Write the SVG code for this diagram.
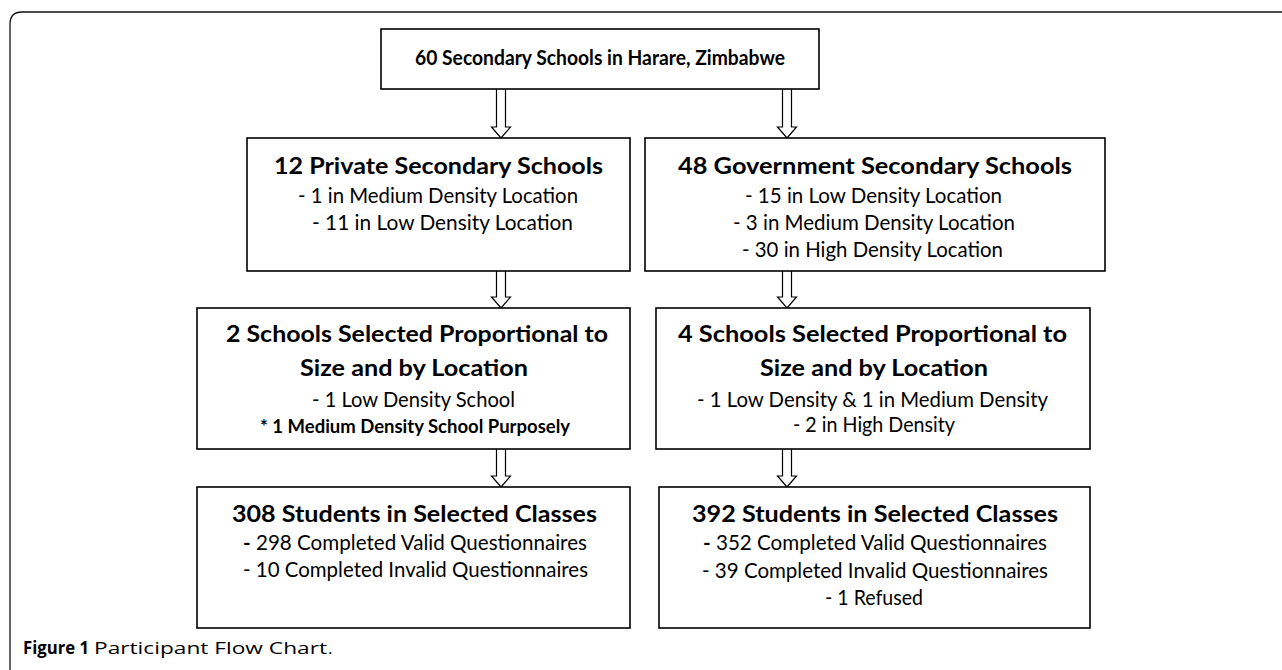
<svg xmlns="http://www.w3.org/2000/svg" width="1282" height="670" viewBox="0 0 1282 670">
<style>
.box{fill:#fff;stroke:#000;stroke-width:1.6}
.arr{fill:#fff;stroke:#000;stroke-width:1.2;stroke-linejoin:miter}
.frame{fill:none;stroke:#111;stroke-width:1.3}
text{font-family:Lato,"Liberation Sans",sans-serif;fill:#000}
.h{font-size:23px;font-weight:bold}
.t{font-size:21px;font-weight:bold}
.b{font-size:21px}
.s{font-size:19px;font-weight:bold}
.cap{font-size:17px;font-family:"Open Sans","Liberation Sans",sans-serif}
</style>
<rect width="1282" height="670" fill="#fff"/>
<path class="frame" d="M10,670 V24 Q10,12 22,12 H1282"/>
<g id="connectors">
<path class="arr" d="M496.5,89 V127 H491.5 L501,138 L510.5,127 H505.5 V89"/>
<path class="arr" d="M782.5,89 V127 H777.5 L787,138 L796.5,127 H791.5 V89"/>
<path class="arr" d="M496.5,271 V297 H491.5 L501,308 L510.5,297 H505.5 V271"/>
<path class="arr" d="M782.5,271 V297 H777.5 L787,308 L796.5,297 H791.5 V271"/>
<path class="arr" d="M496.5,449 V476 H491.5 L501,487 L510.5,476 H505.5 V449"/>
<path class="arr" d="M782.5,449 V476 H777.5 L787,487 L796.5,476 H791.5 V449"/>
</g>
<g id="n_top">
<rect class="box" x="381" y="29" width="438" height="60"/>
<text class="t" x="415" y="65" textLength="370" lengthAdjust="spacingAndGlyphs">60 Secondary Schools in Harare, Zimbabwe</text>
</g>
<g id="n_private">
<rect class="box" x="247" y="138" width="383" height="133"/>
<text class="h" x="274" y="174" textLength="329" lengthAdjust="spacingAndGlyphs">12 Private Secondary Schools</text>
<text class="b" x="298" y="203" textLength="280" lengthAdjust="spacingAndGlyphs">- 1 in Medium Density Location</text>
<text class="b" x="312" y="230" textLength="261" lengthAdjust="spacingAndGlyphs">- 11 in Low Density Location</text>
</g>
<g id="n_gov">
<rect class="box" x="645" y="138" width="460" height="133"/>
<text class="h" x="678" y="174" textLength="394" lengthAdjust="spacingAndGlyphs">48 Government Secondary Schools</text>
<text class="b" x="745" y="203" textLength="257" lengthAdjust="spacingAndGlyphs">- 15 in Low Density Location</text>
<text class="b" x="733" y="230" textLength="282" lengthAdjust="spacingAndGlyphs">- 3 in Medium Density Location</text>
<text class="b" x="742" y="257" textLength="261" lengthAdjust="spacingAndGlyphs">- 30 in High Density Location</text>
</g>
<g id="n_sel_private">
<rect class="box" x="197" y="308" width="433" height="141"/>
<text class="h" x="226" y="342" textLength="382" lengthAdjust="spacingAndGlyphs">2 Schools Selected Proportional to</text>
<text class="h" x="300" y="376" textLength="228" lengthAdjust="spacingAndGlyphs">Size and by Location</text>
<text class="b" x="312" y="407" textLength="203" lengthAdjust="spacingAndGlyphs">- 1 Low Density School</text>
<text class="s" x="260" y="433" textLength="310" lengthAdjust="spacingAndGlyphs">* 1 Medium Density School Purposely</text>
</g>
<g id="n_sel_gov">
<rect class="box" x="656" y="308" width="434" height="141"/>
<text class="h" x="678" y="342" textLength="389" lengthAdjust="spacingAndGlyphs">4 Schools Selected Proportional to</text>
<text class="h" x="760" y="376" textLength="228" lengthAdjust="spacingAndGlyphs">Size and by Location</text>
<text class="b" x="697" y="407" textLength="351" lengthAdjust="spacingAndGlyphs">- 1 Low Density &amp; 1 in Medium Density</text>
<text class="b" x="793" y="432" textLength="162" lengthAdjust="spacingAndGlyphs">- 2 in High Density</text>
</g>
<g id="n_students_private">
<rect class="box" x="197" y="487" width="433" height="141"/>
<text class="h" x="232" y="522" textLength="365" lengthAdjust="spacingAndGlyphs">308 Students in Selected Classes</text>
<text class="b" x="243" y="550" textLength="344" lengthAdjust="spacingAndGlyphs"><tspan font-weight="bold">-</tspan> 298 Completed Valid Questionnaires</text>
<text class="b" x="243" y="577" textLength="345" lengthAdjust="spacingAndGlyphs">- 10 Completed Invalid Questionnaires</text>
</g>
<g id="n_students_gov">
<rect class="box" x="659" y="487" width="431" height="141"/>
<text class="h" x="692" y="522" textLength="366" lengthAdjust="spacingAndGlyphs">392 Students in Selected Classes</text>
<text class="b" x="703" y="550" textLength="344" lengthAdjust="spacingAndGlyphs"><tspan font-weight="bold">-</tspan> 352 Completed Valid Questionnaires</text>
<text class="b" x="702" y="578" textLength="346" lengthAdjust="spacingAndGlyphs">- 39 Completed Invalid Questionnaires</text>
<text class="b" x="825" y="605" textLength="98" lengthAdjust="spacingAndGlyphs">- 1 Refused</text>
</g>
<g id="caption">
<text class="cap" x="23" y="654" font-weight="bold" textLength="66" lengthAdjust="spacingAndGlyphs">Figure 1</text>
<text class="cap" x="94" y="654" textLength="233" lengthAdjust="spacingAndGlyphs">Participant Flow Chart</text>
<text class="cap" x="328" y="654" font-size="12">.</text>
</g>
</svg>
